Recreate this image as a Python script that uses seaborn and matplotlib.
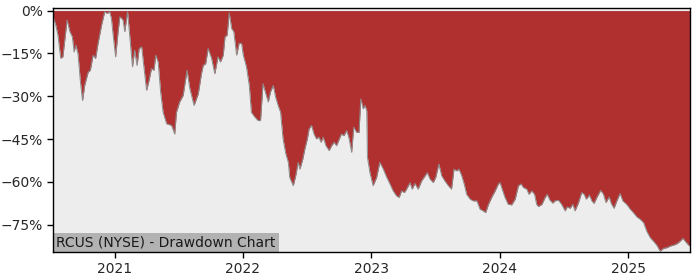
import matplotlib
matplotlib.use("Agg")
import matplotlib.pyplot as plt
import matplotlib.ticker as mticker
import seaborn as sns
import pandas as pd

title = "RCUS (NYSE) - Drawdown Chart"

dates = [
    "2020-07-10", "2020-07-18", "2020-07-24", "2020-08-01", "2020-08-07", "2020-08-19", "2020-08-27",
    "2020-09-03", "2020-09-08", "2020-09-13", "2020-09-19", "2020-09-26", "2020-10-02", "2020-10-08",
    "2020-10-18", "2020-10-24", "2020-11-01", "2020-11-08", "2020-11-15", "2020-11-25", "2020-12-04",
    "2020-12-11", "2020-12-18", "2020-12-23", "2020-12-28", "2021-01-04", "2021-01-11", "2021-01-16",
    "2021-01-21", "2021-01-25", "2021-01-30", "2021-02-07", "2021-02-13", "2021-02-21", "2021-02-27",
    "2021-03-06", "2021-03-12", "2021-03-19", "2021-03-25", "2021-04-02", "2021-04-08", "2021-04-16",
    "2021-04-23", "2021-04-28", "2021-05-05", "2021-05-12", "2021-05-19", "2021-05-29", "2021-06-12",
    "2021-06-21", "2021-06-26", "2021-07-05", "2021-07-15", "2021-07-26", "2021-08-03", "2021-08-15",
    "2021-08-27", "2021-09-05", "2021-09-10", "2021-09-17", "2021-09-24", "2021-10-04", "2021-10-13",
    "2021-10-22", "2021-10-29", "2021-11-06", "2021-11-11", "2021-11-17", "2021-11-23", "2021-11-30",
    "2021-12-06", "2021-12-14", "2021-12-21", "2021-12-28", "2022-01-02", "2022-01-11", "2022-01-19",
    "2022-01-25", "2022-02-04", "2022-02-13", "2022-02-20", "2022-02-27", "2022-03-07", "2022-03-14",
    "2022-03-20", "2022-03-28", "2022-04-04", "2022-04-11", "2022-04-18", "2022-04-25", "2022-05-03",
    "2022-05-10", "2022-05-14", "2022-05-24", "2022-05-31", "2022-06-07", "2022-06-12", "2022-06-20",
    "2022-06-26", "2022-07-03", "2022-07-08", "2022-07-15", "2022-07-22", "2022-07-29", "2022-08-05",
    "2022-08-11", "2022-08-17", "2022-08-25", "2022-09-03", "2022-09-10", "2022-09-17", "2022-09-24",
    "2022-10-02", "2022-10-08", "2022-10-15", "2022-10-23", "2022-10-30", "2022-11-06", "2022-11-12",
    "2022-11-20", "2022-11-27", "2022-12-02", "2022-12-09", "2022-12-14", "2022-12-19", "2022-12-21",
    "2022-12-28", "2023-01-06", "2023-01-16", "2023-01-25", "2023-02-04", "2023-02-14", "2023-02-23",
    "2023-03-04", "2023-03-14", "2023-03-21", "2023-03-28", "2023-04-05", "2023-04-11", "2023-04-21",
    "2023-04-27", "2023-05-05", "2023-05-14", "2023-05-24", "2023-06-03", "2023-06-09", "2023-06-17",
    "2023-06-26", "2023-07-03", "2023-07-12", "2023-07-20", "2023-07-29", "2023-08-08", "2023-08-17",
    "2023-08-24", "2023-09-01", "2023-09-07", "2023-09-15", "2023-09-22", "2023-09-29", "2023-10-09",
    "2023-10-18", "2023-10-28", "2023-11-06", "2023-11-15", "2023-11-22", "2023-11-30", "2023-12-09",
    "2023-12-19", "2023-12-28", "2024-01-02", "2024-01-08", "2024-01-16", "2024-01-25", "2024-02-04",
    "2024-02-14", "2024-02-23", "2024-03-02", "2024-03-08", "2024-03-18", "2024-03-24", "2024-04-01",
    "2024-04-09", "2024-04-15", "2024-04-20", "2024-04-30", "2024-05-09", "2024-05-15", "2024-05-23",
    "2024-05-31", "2024-06-06", "2024-06-16", "2024-06-25", "2024-07-05", "2024-07-11", "2024-07-19",
    "2024-07-27", "2024-08-02", "2024-08-12", "2024-08-21", "2024-08-28", "2024-09-03", "2024-09-12",
    "2024-09-19", "2024-09-25", "2024-10-03", "2024-10-14", "2024-10-22", "2024-10-29", "2024-11-07",
    "2024-11-13", "2024-11-21", "2024-11-29", "2024-12-08", "2024-12-16", "2024-12-27", "2025-01-06",
    "2025-01-15", "2025-01-25", "2025-02-03", "2025-02-13", "2025-02-22", "2025-03-04", "2025-03-13",
    "2025-03-23", "2025-04-01", "2025-04-11", "2025-04-20", "2025-04-30", "2025-05-09", "2025-05-19",
    "2025-05-28", "2025-06-05", "2025-06-11", "2025-06-21", "2025-06-25",
]

drawdown_pct = [
    -2.0, -5.1, -8.6, -16.7, -16.2, -3.3, -7.4,
    -9.2, -14.5, -12.1, -15.1, -25.0, -31.5, -26.2,
    -21.5, -20.9, -15.6, -16.8, -11.5, -5.1, -0.4,
    -1.0, -0.4, -2.7, -8.6, -16.2, -7.4, -2.2,
    -2.7, -3.3, -7.4, -0.4, -8.6, -19.7, -13.9,
    -19.2, -13.3, -12.7, -19.2, -27.9, -25.0, -20.3,
    -20.9, -15.6, -18.0, -28.5, -35.6, -39.6, -40.2,
    -43.2, -35.6, -32.0, -29.7, -20.9, -27.3, -33.2,
    -29.1, -22.1, -19.2, -18.6, -13.3, -16.8, -22.1,
    -16.2, -18.0, -15.6, -9.2, -8.6, -0.8, -6.3,
    -7.4, -15.6, -11.5, -11.5, -15.6, -19.7, -26.2,
    -35.6, -37.3, -38.5, -38.5, -25.6, -29.1, -32.0,
    -28.5, -26.2, -30.3, -33.2, -35.6, -44.9, -50.2,
    -53.1, -58.4, -61.3, -57.8, -53.1, -55.5, -52.0,
    -48.4, -44.9, -41.4, -40.2, -43.2, -44.9, -44.3,
    -46.1, -44.3, -47.3, -49.0, -47.3, -46.1, -47.3,
    -44.9, -43.2, -43.8, -42.0, -44.9, -49.6, -40.8,
    -42.6, -42.6, -30.9, -34.4, -33.2, -35.0, -51.4,
    -56.7, -61.3, -58.4, -53.1, -55.5, -58.4, -60.7,
    -63.1, -64.9, -65.4, -63.1, -63.7, -62.5, -60.2,
    -62.5, -60.5, -62.5, -59.6, -57.8, -56.7, -59.0,
    -60.2, -58.4, -53.7, -57.8, -59.6, -61.3, -62.5,
    -55.5, -56.1, -55.5, -57.8, -60.7, -64.3, -66.0,
    -66.6, -66.6, -69.5, -70.1, -70.7, -67.8, -65.4,
    -63.1, -60.7, -60.2, -62.5, -65.4, -67.8, -68.0,
    -66.0, -61.3, -60.7, -61.9, -62.5, -64.3, -63.1,
    -64.3, -67.8, -68.6, -67.8, -65.4, -64.3, -66.4,
    -67.4, -66.6, -66.4, -67.8, -70.1, -68.7, -69.2,
    -67.8, -70.1, -67.2, -63.7, -64.3, -66.0, -64.6,
    -66.6, -67.5, -65.4, -62.9, -64.3, -67.2, -65.2,
    -67.5, -69.2, -66.6, -64.0, -66.6, -67.8, -69.5,
    -70.7, -72.2, -73.0, -74.2, -77.2, -79.5, -80.7,
    -82.2, -84.2, -83.2, -83.0, -82.4, -82.1, -81.6,
    -80.7, -79.7, -80.7, -82.1, -82.4,
]

ytick_values = [0, -15, -30, -45, -60, -75]
xtick_years = ["2021", "2022", "2023", "2024", "2025"]

df = pd.DataFrame({"date": pd.to_datetime(dates), "dd": [v / 100 for v in drawdown_pct]})

sns.set_style("white")
plt.rcParams["font.family"] = ["DejaVu Sans"]

fig = plt.figure(figsize=(7, 2.8), dpi=100)
ax = fig.add_axes([0.0757, 0.1, 0.91, 0.873])
ax.set_facecolor("#ededed")

ax.fill_between(df["date"], df["dd"], 0, color="#b03030", linewidth=0, zorder=2)
sns.lineplot(data=df, x="date", y="dd", ax=ax, color="#8c8c8c", linewidth=0.7, zorder=3)

ax.set_xlim(df["date"].iloc[0], df["date"].iloc[-1])
ax.set_ylim(-0.845, 0.0105)

ax.set_yticks([v / 100 for v in ytick_values])
ax.yaxis.set_major_formatter(mticker.FuncFormatter(
    lambda v, p: f"{round(v * 100):d}%".replace("-", "\u2212")))
ax.set_xticks(pd.to_datetime([y + "-01-01" for y in xtick_years]))
ax.set_xticklabels(xtick_years)
ax.tick_params(axis="both", which="both", length=4, width=1, color="black",
               labelsize=10, direction="out", bottom=True, left=True)
ax.set_xlabel("")
ax.set_ylabel("")
for s in ax.spines.values():
    s.set_color("black")
    s.set_linewidth(1.0)
    s.set_visible(True)
    s.set_zorder(6)

ax.text(0.0055, 0.011, title, transform=ax.transAxes, fontsize=10, ha="left", va="bottom",
        color="#1a1a1a", zorder=5,
        bbox=dict(facecolor="#b2b2b2", edgecolor="none", boxstyle="square,pad=0.2"))

fig.savefig("out.png", dpi=100)
